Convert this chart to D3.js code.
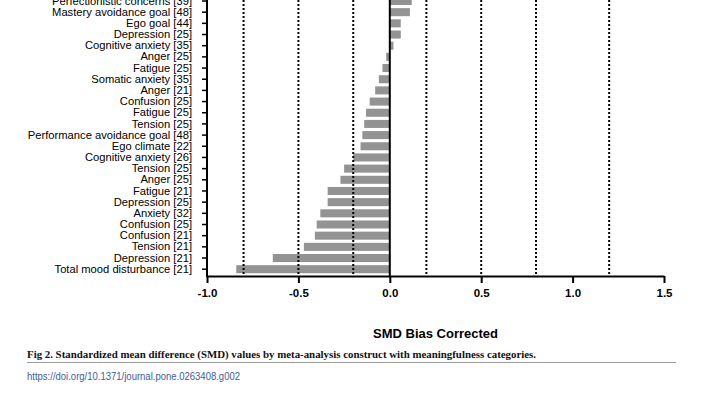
<!DOCTYPE html>
<html>
<head>
<meta charset="utf-8">
<script src="https://cdn.jsdelivr.net/npm/d3@7"></script>
<style>
  html, body { margin: 0; padding: 0; background: #fff; }
  svg { display: block; }
</style>
</head>
<body>
<svg id="chart" width="704" height="396"></svg>
<script>
// ---- data ----
const categories = [
  "Perfectionistic concerns [39]",
  "Mastery avoidance goal [48]",
  "Ego goal [44]",
  "Depression [25]",
  "Cognitive anxiety [35]",
  "Anger [25]",
  "Fatigue [25]",
  "Somatic anxiety [35]",
  "Anger [21]",
  "Confusion [25]",
  "Fatigue [25] ",
  "Tension [25]",
  "Performance avoidance goal [48]",
  "Ego climate [22]",
  "Cognitive anxiety [26]",
  "Tension [25] ",
  "Anger [25] ",
  "Fatigue [21]",
  "Depression [25] ",
  "Anxiety [32]",
  "Confusion [25] ",
  "Confusion [21]",
  "Tension [21]",
  "Depression [21]",
  "Total mood disturbance [21]"
];
const smdValues = [
  0.12, 0.11, 0.06, 0.06, 0.02,
  -0.02, -0.04, -0.06, -0.08, -0.11,
  -0.13, -0.14, -0.15, -0.16, -0.20,
  -0.25, -0.27, -0.34, -0.34, -0.38,
  -0.40, -0.41, -0.47, -0.64, -0.84
];
const xTicks = [-1.0, -0.5, 0.0, 0.5, 1.0, 1.5];
const thresholds = [-0.8, -0.5, -0.2, 0.2, 0.5, 0.8, 1.2];
const axisTitle = "SMD Bias Corrected";
const caption = "Fig 2.  Standardized mean difference (SMD) values by meta-analysis construct with meaningfulness categories.";
const doiText = "https://doi.org/10.1371/journal.pone.0263408.g002";

// ---- layout ----
const svg = d3.select("#chart");
const plotLeft = 207, plotRight = 664, axisY = 276;
const rowStep = 11.175;
const firstCenter = 1.0;

const x = d3.scaleLinear().domain([-1, 1.5]).range([plotLeft, plotRight]);
const y = d3.scaleBand()
  .domain(categories)
  .range([firstCenter - rowStep / 2, firstCenter - rowStep / 2 + rowStep * categories.length])
  .paddingInner(0.28)
  .paddingOuter(0.14);

const data = categories.map((c, i) => ({ c, v: smdValues[i] }));

// bars
svg.append("g").selectAll("rect").data(data).join("rect")
  .attr("x", d => x(Math.min(0, d.v)))
  .attr("y", d => y(d.c))
  .attr("width", d => Math.abs(x(d.v) - x(0)))
  .attr("height", y.bandwidth())
  .attr("fill", "#939393");

// dotted threshold lines
svg.append("g").selectAll("line").data(thresholds).join("line")
  .attr("x1", d => x(d)).attr("x2", d => x(d))
  .attr("y1", 0).attr("y2", axisY)
  .attr("stroke", "#000")
  .attr("stroke-width", 2)
  .attr("stroke-dasharray", "2,2");

// zero line
svg.append("line")
  .attr("x1", x(0)).attr("x2", x(0))
  .attr("y1", 0).attr("y2", axisY)
  .attr("stroke", "#000").attr("stroke-width", 2);

// y axis
const yAxis = svg.append("g")
  .attr("transform", `translate(${plotLeft},0)`)
  .call(d3.axisLeft(y).tickSize(5).tickPadding(10).tickSizeOuter(0));
yAxis.select(".domain").remove();
yAxis.selectAll(".tick line").attr("stroke", "#000").attr("stroke-width", 1.5);
yAxis.selectAll(".tick text")
  .attr("fill", "#000")
  .style("font-family", "'Liberation Sans', Arial, sans-serif")
  .style("font-size", "11.2px");
svg.append("line")
  .attr("x1", plotLeft).attr("x2", plotLeft)
  .attr("y1", 0).attr("y2", axisY + 1)
  .attr("stroke", "#000").attr("stroke-width", 2);

// x axis
const fmt = d => d3.format(".1f")(d).replace("\u2212", "-");
const xAxis = svg.append("g")
  .attr("transform", `translate(0,${axisY})`)
  .call(d3.axisBottom(x).tickValues(xTicks).tickFormat(fmt).tickSize(7).tickPadding(6).tickSizeOuter(0));
xAxis.select(".domain").attr("stroke", "#000").attr("stroke-width", 2);
xAxis.selectAll(".tick line").attr("stroke", "#000").attr("stroke-width", 2);
xAxis.selectAll(".tick text")
  .attr("fill", "#000")
  .style("font-family", "'Liberation Sans', Arial, sans-serif")
  .style("font-weight", "bold")
  .style("font-size", "11.5px");

// axis title
svg.append("text")
  .attr("x", (plotLeft + plotRight) / 2)
  .attr("y", 338)
  .attr("text-anchor", "middle")
  .style("font-family", "'Liberation Sans', Arial, sans-serif")
  .style("font-weight", "bold")
  .style("font-size", "13px")
  .text(axisTitle);

// caption
svg.append("text")
  .attr("x", 27).attr("y", 357.5)
  .attr("textLength", 509)
  .attr("lengthAdjust", "spacingAndGlyphs")
  .style("font-family", "'Liberation Serif', 'Times New Roman', serif")
  .style("font-weight", "bold")
  .style("font-size", "10.5px")
  .attr("fill", "#111")
  .text(caption);

svg.append("line")
  .attr("x1", 27).attr("x2", 676)
  .attr("y1", 362.5).attr("y2", 362.5)
  .attr("stroke", "#9a9a9a").attr("stroke-width", 1);

svg.append("text")
  .attr("x", 27).attr("y", 379.5)
  .attr("textLength", 213)
  .attr("lengthAdjust", "spacingAndGlyphs")
  .style("font-family", "'Liberation Sans Narrow', 'Liberation Sans', Arial, sans-serif")
  .style("font-size", "10.5px")
  .attr("fill", "#3d5c9c")
  .text(doiText);
</script>
</body>
</html>
